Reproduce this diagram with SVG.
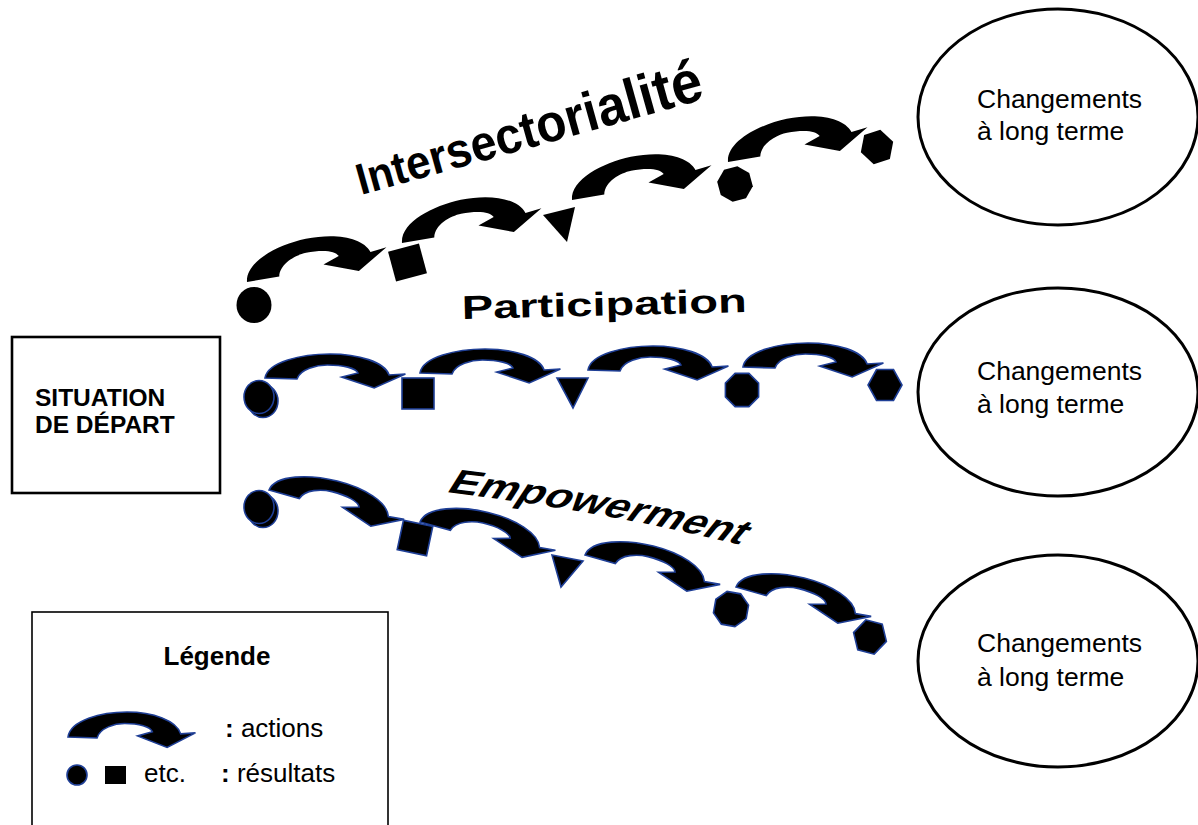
<svg xmlns="http://www.w3.org/2000/svg" xmlns:xlink="http://www.w3.org/1999/xlink" width="1198" height="825" viewBox="0 0 1198 825">
<style>
  .lbl { font-family: "Liberation Sans", Arial, sans-serif; fill: #000; }
  .b { font-weight: bold; }
  .blk { fill: #000; stroke: none; }
  .blu { fill: #000; stroke: #1f3f96; stroke-width: 1.6; }
  .ell { fill: #fff; stroke: #000; stroke-width: 3; }
  .box { fill: #fff; stroke: #000; }
</style>
<defs>
  <path id="carrow" vector-effect="non-scaling-stroke" d="M0,24 C2,8 28,0 50,0 C72,0 92,8 95.5,21 L108,20 L84,34 L59,23 L71.5,19 C70,14 60,11 48,11 C40,11 27,15 24.6,25 Z"/>
  <polygon id="oct" vector-effect="non-scaling-stroke" points="16.6,6.9 6.9,16.6 -6.9,16.6 -16.6,6.9 -16.6,-6.9 -6.9,-16.6 6.9,-16.6 16.6,-6.9"/>
  <polygon id="hex" vector-effect="non-scaling-stroke" points="17,0 8.5,15.5 -8.5,15.5 -17,0 -8.5,-15.5 8.5,-15.5"/>
  <path id="empPath" d="M445.3,492 Q571,512.5 682.6,550"/>
</defs>

<g id="situation">
  <rect class="box" x="12" y="337" width="208" height="156" stroke-width="2.6"/>
  <text class="lbl b" x="35" y="406" font-size="24.5">SITUATION</text>
  <text class="lbl b" x="35" y="433" font-size="24.5">DE DÉPART</text>
</g>

<g id="changement1">
  <ellipse class="ell" cx="1058" cy="117" rx="140" ry="108"/>
  <text class="lbl" x="977" y="108" font-size="26.5">Changements</text>
  <text class="lbl" x="977" y="140" font-size="26.5">à long terme</text>
</g>
<g id="changement2">
  <ellipse class="ell" cx="1058" cy="392" rx="140" ry="104"/>
  <text class="lbl" x="977" y="380" font-size="26.5">Changements</text>
  <text class="lbl" x="977" y="413" font-size="26.5">à long terme</text>
</g>
<g id="changement3">
  <ellipse class="ell" cx="1058" cy="661" rx="140" ry="106"/>
  <text class="lbl" x="977" y="652" font-size="26.5">Changements</text>
  <text class="lbl" x="977" y="686" font-size="26.5">à long terme</text>
</g>

<g id="title-intersectorialite">
  <text class="lbl b" transform="translate(361,195) rotate(-15.6) scale(0.93,1)" x="0" y="0"><tspan font-size="44">I</tspan><tspan font-size="45">n</tspan><tspan font-size="46">t</tspan><tspan font-size="47">e</tspan><tspan font-size="48">r</tspan><tspan font-size="49">s</tspan><tspan font-size="50">e</tspan><tspan font-size="51">c</tspan><tspan font-size="52">t</tspan><tspan font-size="53">o</tspan><tspan font-size="54">r</tspan><tspan font-size="55">i</tspan><tspan font-size="56">a</tspan><tspan font-size="57">l</tspan><tspan font-size="58">i</tspan><tspan font-size="59">t</tspan><tspan font-size="60">é</tspan></text>
</g>

<g id="title-participation">
  <text class="lbl b" x="462" y="319" font-size="33" textLength="285" lengthAdjust="spacingAndGlyphs" transform="rotate(-1.4 462 319)">Participation</text>
</g>

<g id="title-empowerment">
  <g transform="scale(1.42,1) skewX(-15)">
    <text class="lbl b" font-size="33"><textPath xlink:href="#empPath" href="#empPath">Empowerment</textPath></text>
  </g>
</g>

<g id="row-intersectorialite">
  <ellipse class="blk" cx="254" cy="305" rx="17.5" ry="18"/>
  <rect class="blk" x="-16" y="-15.5" width="32" height="31" transform="translate(407.5,262.5) rotate(-15)"/>
  <polygon class="blk" points="543,215 575,207 567,242"/>
  <use href="#oct" class="blk" transform="translate(735,184) rotate(-15)"/>
  <use href="#hex" class="blk" transform="translate(877,147) rotate(-18)"/>
</g>

<g id="row-participation">
  <ellipse class="blu" cx="263" cy="401" rx="15" ry="16.5"/>
  <ellipse class="blu" cx="259" cy="397" rx="15" ry="16.5"/>
  <rect class="blu" x="402" y="378" width="32" height="31"/>
  <polygon class="blu" points="557,378 588,378 573,408"/>
  <use href="#oct" class="blu" transform="translate(742,390)"/>
  <use href="#hex" class="blu" transform="translate(885,385)"/>
</g>

<g id="row-empowerment">
  <ellipse class="blu" cx="263" cy="511" rx="15" ry="16.5"/>
  <ellipse class="blu" cx="259" cy="507" rx="15" ry="16.5"/>
  <rect class="blu" x="-15" y="-15" width="30" height="30" transform="translate(415,538) rotate(12)"/>
  <polygon class="blu" points="552,555 583,561 561,587"/>
  <use href="#oct" class="blu" transform="translate(731,609) rotate(10)"/>
  <use href="#hex" class="blu" transform="translate(870,637) rotate(15)"/>
</g>

<g id="connectors">
  <use href="#carrow" class="blk" transform="translate(247,282) rotate(-12) scale(1.33,1.25) translate(0,-24)"/>
  <use href="#carrow" class="blk" transform="translate(402,243) rotate(-12) scale(1.33,1.25) translate(0,-24)"/>
  <use href="#carrow" class="blk" transform="translate(572,200) rotate(-12) scale(1.33,1.25) translate(0,-24)"/>
  <use href="#carrow" class="blk" transform="translate(728,162) rotate(-12) scale(1.33,1.25) translate(0,-24)"/>

  <use href="#carrow" class="blu" transform="translate(265,378) scale(1.3,1) translate(0,-24)"/>
  <use href="#carrow" class="blu" transform="translate(420,373) scale(1.3,1) translate(0,-24)"/>
  <use href="#carrow" class="blu" transform="translate(588,370) scale(1.3,1) translate(0,-24)"/>
  <use href="#carrow" class="blu" transform="translate(743,367) scale(1.3,1) translate(0,-24)"/>

  <use href="#carrow" class="blu" transform="translate(269,490) rotate(14) scale(1.28,1.05) translate(0,-24)"/>
  <use href="#carrow" class="blu" transform="translate(420,522) rotate(13.5) scale(1.28,1.05) translate(0,-24)"/>
  <use href="#carrow" class="blu" transform="translate(585,555) rotate(14) scale(1.28,1.05) translate(0,-24)"/>
  <use href="#carrow" class="blu" transform="translate(736,587) rotate(14) scale(1.28,1.05) translate(0,-24)"/>
</g>

<g id="legend">
  <rect class="box" x="32" y="612" width="356" height="240" stroke-width="1.6"/>
  <text class="lbl b" x="217" y="665" font-size="26" text-anchor="middle">Légende</text>
  <use href="#carrow" class="blu" transform="translate(68,737) scale(1.18,1.04) translate(0,-24)"/>
  <text class="lbl" x="225" y="737" font-size="26"><tspan class="b">:</tspan> actions</text>
  <circle class="blu" cx="77" cy="775" r="10"/>
  <rect class="blk" x="105" y="766" width="21" height="18"/>
  <text class="lbl" x="144" y="782" font-size="26">etc.</text>
  <text class="lbl" x="221" y="782" font-size="26"><tspan class="b">:</tspan> résultats</text>
</g>
</svg>
